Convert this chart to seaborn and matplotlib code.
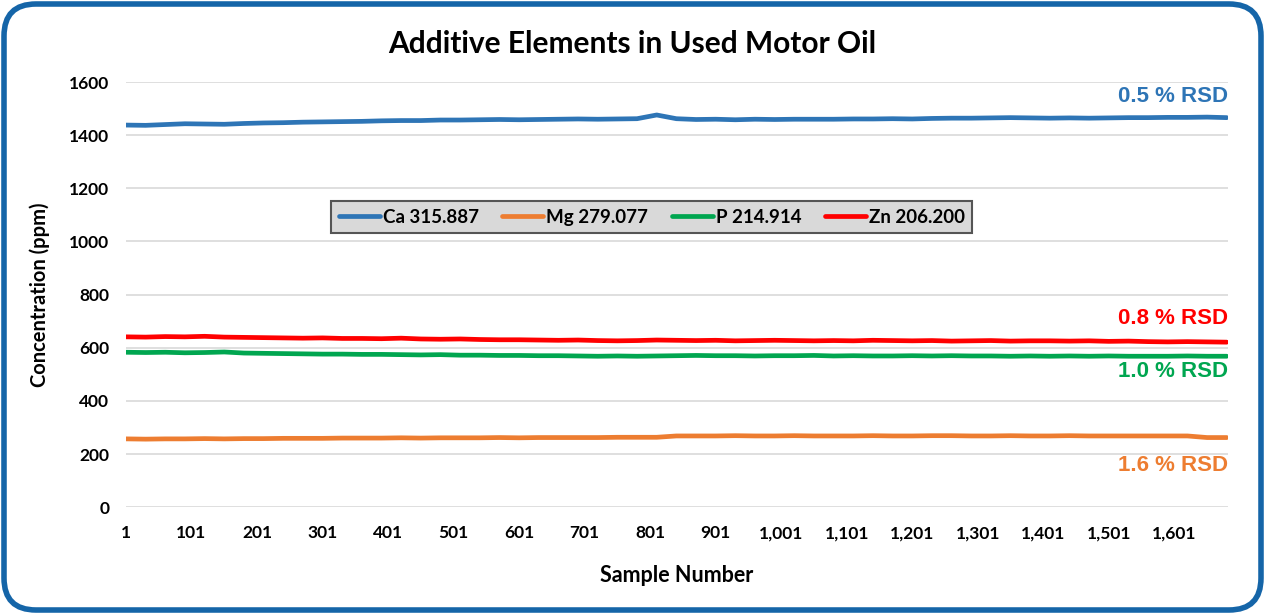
import numpy as np
import pandas as pd
import matplotlib
matplotlib.use("Agg")
import matplotlib.pyplot as plt
from matplotlib.patches import FancyBboxPatch
from matplotlib.transforms import IdentityTransform
import seaborn as sns

# ---------------- data ----------------
samples = list(range(1, 1682, 30))  # 57 sample numbers

ca_vals = [1438, 1437, 1440, 1443, 1442, 1441, 1444, 1446, 1447, 1449,
           1450, 1451, 1452, 1454, 1455, 1455, 1457, 1457, 1458, 1459,
           1458, 1459, 1460, 1461, 1460, 1461, 1462, 1476, 1462, 1459,
           1460, 1458, 1460, 1459, 1460, 1460, 1460, 1461, 1461, 1462,
           1461, 1463, 1464, 1464, 1465, 1466, 1465, 1464, 1465, 1464,
           1465, 1466, 1466, 1467, 1467, 1468, 1466]

mg_vals = [257, 256, 257, 257, 258, 257, 258, 258, 259, 259,
           259, 260, 260, 260, 261, 260, 261, 261, 261, 262,
           261, 262, 262, 262, 262, 263, 263, 263, 268, 268,
           268, 269, 268, 268, 269, 268, 268, 268, 269, 268,
           268, 269, 269, 268, 268, 269, 268, 268, 269, 268,
           268, 268, 268, 268, 268, 262, 262]

p_vals = [583, 582, 583, 581, 582, 584, 580, 579, 578, 577,
          576, 576, 575, 575, 574, 573, 574, 572, 572, 571,
          571, 570, 570, 569, 568, 569, 568, 569, 570, 571,
          570, 570, 569, 570, 570, 571, 569, 570, 569, 569,
          570, 569, 570, 569, 569, 568, 569, 568, 569, 568,
          569, 568, 568, 568, 569, 568, 568]

zn_vals = [641, 640, 642, 641, 643, 640, 639, 638, 637, 636,
           637, 635, 635, 634, 636, 633, 632, 633, 631, 630,
           630, 629, 628, 629, 627, 626, 627, 629, 628, 627,
           628, 626, 627, 628, 627, 626, 627, 626, 628, 627,
           626, 627, 625, 626, 627, 625, 626, 626, 625, 626,
           624, 625, 623, 622, 623, 622, 621]

series_names = ["Ca 315.887", "Mg 279.077", "P 214.914", "Zn 206.200"]
series_colors = ["#2e75b6", "#ed7d31", "#00a650", "#ff0000"]
rsd_labels = ["0.5 % RSD", "1.6 % RSD", "1.0 % RSD", "0.8 % RSD"]
rsd_yvals = [1547, 155, 509, 709]

y_ticks = [0, 200, 400, 600, 800, 1000, 1200, 1400, 1600]
x_ticks = list(range(1, 1602, 100))
x_tick_labels = [f"{t:,}" for t in x_ticks]

# ---------------- build frame ----------------
frames = []
for name, vals in zip(series_names, [ca_vals, mg_vals, p_vals, zn_vals]):
    frames.append(pd.DataFrame({"Sample": samples, "Value": vals, "Series": name}))
df = pd.concat(frames, ignore_index=True)

sns.set_theme(style="white")
plt.rcParams["font.family"] = ["Lato", "DejaVu Sans"]
plt.rcParams["text.color"] = "black"
plt.rcParams["axes.labelcolor"] = "black"

fig = plt.figure(figsize=(12.65, 6.14), dpi=100)
ax = fig.add_axes([0.0996, 0.174, 0.8712, 0.6924])

sns.lineplot(data=df, x="Sample", y="Value", hue="Series",
             palette=dict(zip(series_names, series_colors)),
             hue_order=series_names, linewidth=3.4, ax=ax, legend=False)

ax.set_xlim(1, 1683)
ax.set_ylim(0, 1600)
ax.set_yticks(y_ticks)
ax.set_yticklabels([str(t) for t in y_ticks], fontsize=12.5, fontweight="bold")
ax.set_xticks(x_ticks)
ax.set_xticklabels(x_tick_labels, fontsize=12.5, fontweight="bold")
ax.tick_params(axis="both", length=0, pad=12, colors="black")
ax.tick_params(axis="x", pad=13)
ax.yaxis.grid(True, color="#d9d9d9", linewidth=1.2)
ax.xaxis.grid(False)
ax.set_axisbelow(True)
for s in ax.spines.values():
    s.set_visible(False)

ax.set_xlabel("Sample Number", fontsize=15.5, fontweight="bold", labelpad=17, color="black")
ax.set_ylabel("Concentration (ppm)", fontsize=14.5, fontweight="bold", labelpad=14, color="black")
fig.text(0.5, 0.928, "Additive Elements in Used Motor Oil", ha="center", va="center",
         fontsize=21.5, fontweight="bold", color="black")

# RSD annotations
for lab, yv, col in zip(rsd_labels, rsd_yvals, series_colors):
    ax.text(1683, yv, lab, ha="right", va="center", color=col, fontsize=16,
            fontweight="bold", family=["Liberation Sans", "DejaVu Sans"])

# legend
handles = [plt.Line2D([], [], color=c, linewidth=3.4) for c in series_colors]
leg = ax.legend(handles, series_names, ncol=4, loc="center",
                bbox_to_anchor=(0.477, 0.682), frameon=True, fancybox=False,
                facecolor="#d9d9d9", edgecolor="#555555", framealpha=1,
                prop={"weight": "bold", "size": 13.5}, handlelength=2.2,
                handletextpad=0.15, columnspacing=1.25, borderpad=0.4)
leg.get_frame().set_linewidth(1.5)
for t in leg.get_texts():
    t.set_color("black")

# rounded border
border = FancyBboxPatch((4, 4), 1257, 606, boxstyle="round,pad=0,rounding_size=32",
                        transform=IdentityTransform(), facecolor="none",
                        edgecolor="#1565a8", linewidth=4, clip_on=False)
fig.patches.append(border)

fig.savefig("out.png", dpi=100)
